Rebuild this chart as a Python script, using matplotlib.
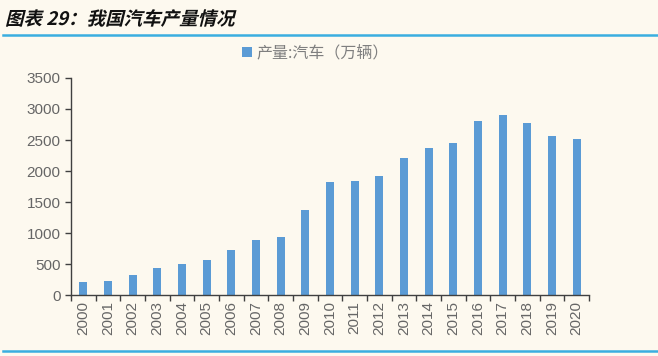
import matplotlib.pyplot as plt
import numpy as np
from matplotlib.textpath import TextPath
from matplotlib.patches import PathPatch
from matplotlib.font_manager import FontProperties
from matplotlib.transforms import Affine2D

plt.rcParams['font.family'] = ['Liberation Sans', 'Noto Sans CJK SC', 'DejaVu Sans']

years = [str(y) for y in range(2000, 2021)]
output = [207, 234, 325, 444, 507, 570, 728, 888, 934, 1379, 1826,
          1841, 1927, 2212, 2372, 2450, 2812, 2902, 2781, 2572, 2523]

bg = '#FDF9EF'
fig = plt.figure(figsize=(6.58, 3.56), dpi=100, facecolor=bg)
ax = fig.add_axes([0.108, 0.171, 0.787, 0.610], facecolor=bg)

x = np.arange(len(years))
ax.bar(x, output, width=0.33, color='#5B9BD5', label='产量:汽车（万辆）')

ax.set_xlim(-0.5, len(years) - 0.5)
ax.set_ylim(0, 3500)
ax.set_yticks(range(0, 3501, 500))
ax.set_xticks(x)
ax.set_xticklabels(years, rotation=90)
ax.set_xticks(np.arange(-0.5, len(years), 1), minor=True)
ax.tick_params(axis='x', which='major', length=0, pad=4, labelsize=11, labelcolor='#666666')
ax.tick_params(axis='x', which='minor', length=4, width=1, color='#404040', direction='out')
ax.tick_params(axis='y', length=4, width=1, color='#404040', labelsize=11, labelcolor='#666666')

for s in ['top', 'right']:
    ax.spines[s].set_visible(False)
for s in ['left', 'bottom']:
    ax.spines[s].set_color('#404040')
    ax.spines[s].set_linewidth(1)

leg = ax.legend(loc='center', bbox_to_anchor=(0.472, 1.115), frameon=False,
                handlelength=0.6, handleheight=0.6, handletextpad=0.3,
                prop={'family': ['Noto Sans CJK SC'], 'size': 11.5})
for t in leg.get_texts():
    t.set_color('#7F7F7F')

# slanted bold title (no italic CJK font, so shear the glyph outlines)
fp = FontProperties(family='Noto Sans CJK SC', weight='bold')
tp = TextPath((0, 0), '图表 29：我国汽车产量情况', size=18.5, prop=fp)
tr = Affine2D().skew_deg(14, 0).translate(5, 356 - 25)
fig.add_artist(PathPatch(tp, transform=tr, facecolor='#111111', edgecolor='none'))

fig.add_artist(plt.Line2D([0.005, 1.0], [0.902, 0.902], color='#3AAEE0', linewidth=1.8))
fig.add_artist(plt.Line2D([0.005, 1.0], [0.013, 0.013], color='#3AAEE0', linewidth=1.8))

fig.savefig('out.png', dpi=100, facecolor=bg)
